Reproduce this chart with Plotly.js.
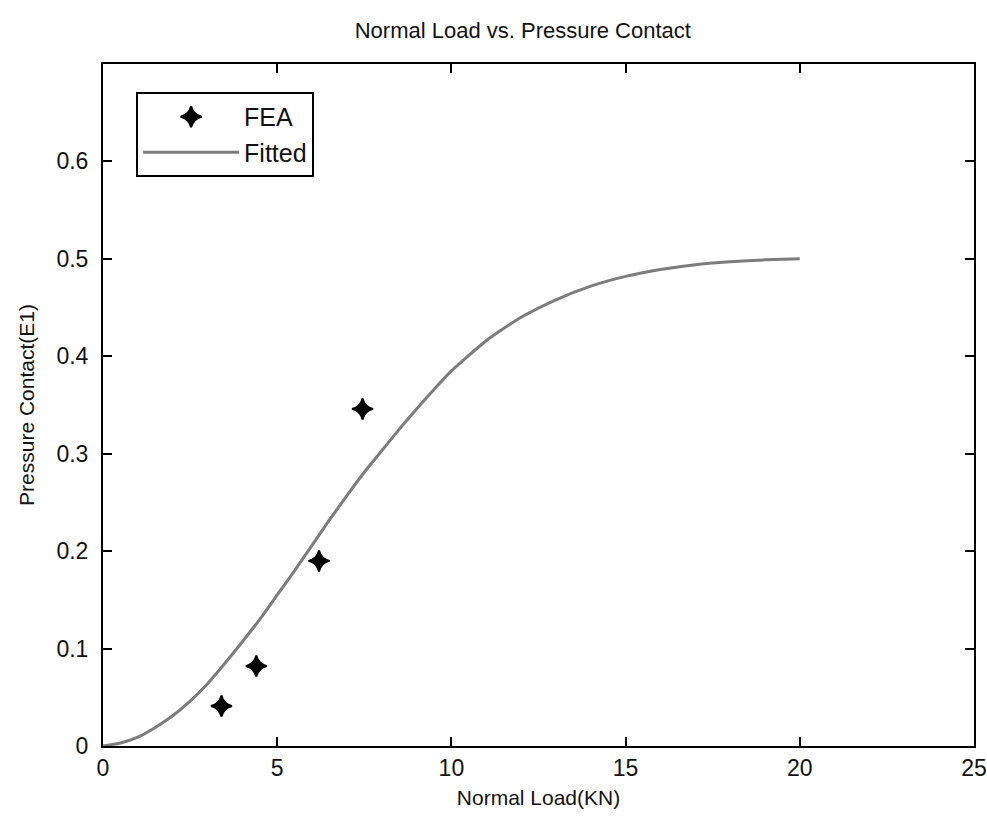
<!DOCTYPE html>
<html>
<head>
<meta charset="utf-8">
<script src="https://cdn.plot.ly/plotly-3.0.1.min.js"></script>
<style>html,body{margin:0;padding:0;background:#fff;}#chart{width:987px;height:834px;}</style>
</head>
<body>
<div id="chart"></div>
<script>
// FEA data points
const feaLoad = [3.4, 4.4, 6.2, 7.45];
const feaPressure = [0.041, 0.082, 0.19, 0.346];

// Fitted curve
const fitLoad = [0, 0.5, 1, 1.5, 2, 2.5, 3, 3.5, 4, 4.5, 5, 5.5, 6, 6.5, 7, 7.5, 8, 8.5, 9, 9.5, 10, 11, 12, 13, 14, 15, 16, 17, 18, 19, 20];
const fitPressure = [0, 0.003, 0.009, 0.019, 0.031, 0.046, 0.064, 0.085, 0.107, 0.13, 0.155, 0.18, 0.206, 0.232, 0.257, 0.281, 0.303, 0.325, 0.346, 0.366, 0.385, 0.416, 0.44, 0.458, 0.472, 0.482, 0.489, 0.494, 0.497, 0.499, 0.5];

const xTicks = [0, 5, 10, 15, 20, 25];
const yTicks = [0, 0.1, 0.2, 0.3, 0.4, 0.5, 0.6];

const fontFam = 'Liberation Sans, Arial, sans-serif';

const traces = [
  {
    x: feaLoad, y: feaPressure, name: 'FEA', type: 'scatter', mode: 'markers',
    marker: {symbol: 'star-diamond', size: 15, color: '#000', line: {width: 2, color: '#000'}}
  },
  {
    x: fitLoad, y: fitPressure, name: 'Fitted', type: 'scatter', mode: 'lines',
    line: {color: '#7c7c7c', width: 3, shape: 'spline', smoothing: 0.6}
  }
];

const axisCommon = {
  showgrid: false, zeroline: false, showline: true, linecolor: '#000', linewidth: 2,
  mirror: 'ticks', ticks: 'inside', ticklen: 9, tickcolor: '#000', tickwidth: 2,
  tickfont: {family: fontFam, size: 23, color: '#111'}
};

const layout = {
  width: 987, height: 834,
  paper_bgcolor: '#fff', plot_bgcolor: '#fff',
  margin: {l: 103, r: 13, t: 64, b: 88},
  title: {text: 'Normal Load vs. Pressure Contact', x: 0.482, xref: 'paper', y: 0.964, yref: 'container', yanchor: 'middle',
          font: {family: fontFam, size: 22, color: '#111'}},
  xaxis: Object.assign({}, axisCommon, {
    range: [0, 25], tickvals: xTicks, ticktext: xTicks.map(String),
    title: {text: 'Normal Load(KN)', standoff: 11, font: {family: fontFam, size: 21, color: '#111'}}
  }),
  yaxis: Object.assign({}, axisCommon, {
    range: [0, 0.7], tickvals: yTicks, ticktext: yTicks.map(v => v === 0 ? '0' : v.toFixed(1)),
    ticklabelstandoff: 8,
    title: {text: 'Pressure Contact(E1)', standoff: 16, font: {family: fontFam, size: 21, color: '#111'}}
  }),
  showlegend: true,
  legend: {
    x: 0.038, y: 0.959, xanchor: 'left', yanchor: 'top',
    bgcolor: '#fff', bordercolor: '#000', borderwidth: 2,
    font: {family: fontFam, size: 25, color: '#111'},
    itemwidth: 96, tracegroupgap: 4
  }
};

Plotly.newPlot('chart', traces, layout, {displayModeBar: false, staticPlot: true});
</script>
</body>
</html>
